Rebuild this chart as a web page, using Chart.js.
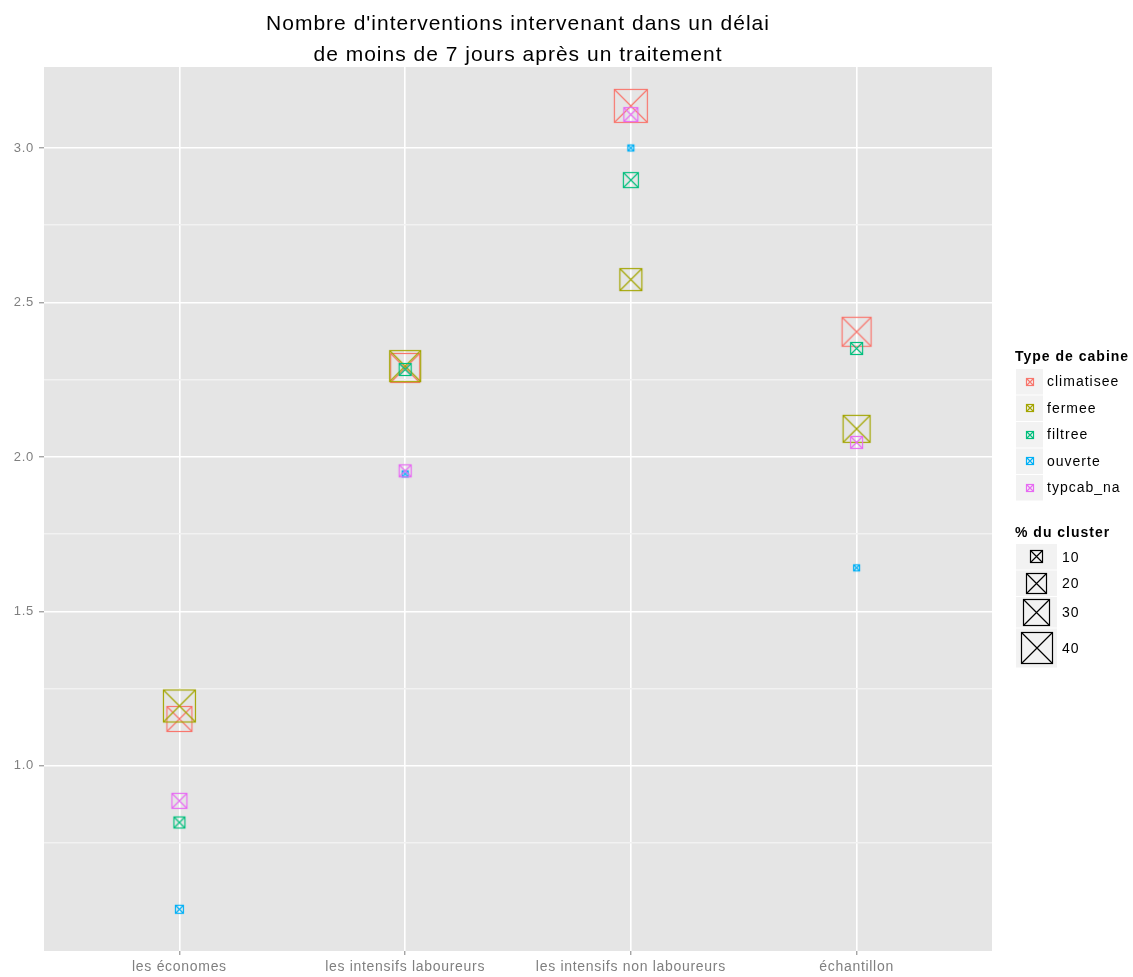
<!DOCTYPE html>
<html lang="fr">
<head>
<meta charset="UTF-8">
<title>Nombre d'interventions</title>
<script src="https://cdn.jsdelivr.net/npm/chart.js"></script>
<style>
  body { margin: 0; background: #fff; }
  #chart { display: block; }
</style>
</head>
<body>
<canvas id="chart" width="1133" height="977"></canvas>
<script>
// categories on the x axis
const categories = ['les économes', 'les intensifs laboureurs', 'les intensifs non laboureurs', 'échantillon'];
const cabinTypes = ['climatisee', 'fermee', 'filtree', 'ouverte', 'typcab_na'];
const cabinColors = ['#F8766D', '#A3A500', '#00BF7D', '#00B0F6', '#E76BF3'];

// mean number of interventions (y) per category
const climatiseeY = [1.152, 2.288, 3.136, 2.405];
const fermeeY     = [1.194, 2.294, 2.574, 2.091];
const filtreeY    = [0.817, 2.283, 2.896, 2.351];
const ouverteY    = [0.536, 1.945, 3.000, 1.641];
const typcabNaY   = [0.887, 1.955, 3.108, 2.047];

// % du cluster (marker size)
const climatiseePct = [28, 36, 45, 36];
const fermeePct     = [42, 40, 23, 31];
const filtreePct    = [9, 10, 13, 10];
const ouvertePct    = [7, 6, 6, 6];
const typcabNaPct   = [13, 10, 12, 10];

const yMajorTicks = [1.0, 1.5, 2.0, 2.5, 3.0];
const yMinorTicks = [0.75, 1.25, 1.75, 2.25, 2.75];
const sizeLegendValues = [10, 20, 30, 40];

const seriesY = [climatiseeY, fermeeY, filtreeY, ouverteY, typcabNaY];
const seriesPct = [climatiseePct, fermeePct, filtreePct, ouvertePct, typcabNaPct];

const FONT = '"Liberation Sans", Arial, sans-serif';

// size scale: marker area grows linearly with the percentage
function sideFor(pct) {
  return Math.sqrt(Math.max(30, 169 + 28.5 * (pct - 10)));
}

const markerCache = {};
function marker(color, side) {
  const s = Math.round(side);
  const key = color + s;
  if (markerCache[key]) return markerCache[key];
  const pad = 2;
  const dim = s + pad * 2;
  const c = document.createElement('canvas');
  c.width = dim; c.height = dim;
  const g = c.getContext('2d');
  g.strokeStyle = color;
  g.lineWidth = 1.2;
  g.strokeRect(pad + 0.5, pad + 0.5, s - 1, s - 1);
  g.beginPath();
  g.moveTo(pad + 0.5, pad + 0.5); g.lineTo(pad + s - 0.5, pad + s - 0.5);
  g.moveTo(pad + s - 0.5, pad + 0.5); g.lineTo(pad + 0.5, pad + s - 0.5);
  g.stroke();
  markerCache[key] = c;
  return c;
}

const datasets = cabinTypes.map((name, i) => ({
  label: name,
  data: seriesY[i].map((y, j) => ({ x: j + 1, y: y })),
  order: cabinTypes.length - i,
  pointStyle: (ctx) => marker(cabinColors[i], sideFor(seriesPct[i][ctx.dataIndex])),
  pointRadius: 5,
  showLine: false
}));

const titleLines = ["Nombre d'interventions intervenant dans un délai", 'de moins de 7 jours après un traitement'];

const decorPlugin = {
  id: 'decor',
  beforeDraw(chart) {
    const { ctx, chartArea: a } = chart;
    ctx.save();
    ctx.fillStyle = '#ffffff';
    ctx.fillRect(0, 0, chart.width, chart.height);
    ctx.fillStyle = '#E5E5E5';
    ctx.fillRect(a.left, a.top, a.right - a.left, a.bottom - a.top);
    ctx.restore();
    // wider tracking for the axis labels, like the R output
    ctx.letterSpacing = '0.7px';
  },
  beforeDatasetsDraw(chart) {
    chart.ctx.letterSpacing = '0px';
  },
  afterDraw(chart) {
    const { ctx, chartArea: a } = chart;
    ctx.save();
    // title
    ctx.fillStyle = '#000';
    ctx.font = '21px ' + FONT;
    ctx.letterSpacing = '1px';
    ctx.textAlign = 'center';
    ctx.textBaseline = 'middle';
    const cx = (a.left + a.right) / 2;
    ctx.fillText(titleLines[0], cx, 24);
    ctx.fillText(titleLines[1], cx, 55);

    // legend: colour
    const lx = 1016;
    ctx.textAlign = 'left';
    ctx.font = 'bold 14px ' + FONT;
    ctx.fillText('Type de cabine', 1015, 357);
    ctx.font = '14px ' + FONT;
    cabinTypes.forEach((name, i) => {
      const top = 369 + i * 26.5;
      ctx.fillStyle = '#F2F2F2';
      ctx.fillRect(lx, top, 27, 25.5);
      const m = marker(cabinColors[i], 8);
      ctx.drawImage(m, Math.round(lx + 13.5 - m.width / 2), Math.round(top + 12.75 - m.height / 2));
      ctx.fillStyle = '#000';
      ctx.fillText(name, 1047, top + 13.5);
    });

    // legend: size
    ctx.font = 'bold 14px ' + FONT;
    ctx.fillText('% du cluster', 1015, 533);
    ctx.font = '14px ' + FONT;
    const heights = [25.5, 25.5, 30.5, 39];
    let top = 544;
    sizeLegendValues.forEach((v, i) => {
      const h = heights[i];
      ctx.fillStyle = '#F2F2F2';
      ctx.fillRect(lx, top, 41, h);
      const m = marker('#000000', sideFor(v));
      ctx.drawImage(m, Math.round(lx + 20.5 - m.width / 2), Math.round(top + h / 2 - m.height / 2));
      ctx.fillStyle = '#000';
      ctx.fillText(String(v), 1062, top + h / 2 + 1);
      top += h + 1;
    });
    ctx.restore();
  }
};

new Chart(document.getElementById('chart'), {
  type: 'scatter',
  data: { datasets: datasets },
  options: {
    responsive: false,
    animation: false,
    devicePixelRatio: 1,
    layout: { padding: { top: 67, right: 141, left: 0, bottom: 0 } },
    plugins: {
      legend: { display: false },
      tooltip: { enabled: false },
      title: { display: false }
    },
    scales: {
      x: {
        type: 'linear',
        min: 0.4,
        max: 4.6,
        afterBuildTicks(scale) {
          scale.ticks = categories.map((c, i) => ({ value: i + 1 }));
        },
        afterFit(scale) { scale.height = 26; },
        border: { display: false },
        grid: {
          color: '#FFFFFF',
          lineWidth: 1.6,
          tickColor: '#7F7F7F',
          tickLength: 4,
          tickWidth: 1
        },
        ticks: {
          autoSkip: false,
          maxRotation: 0,
          padding: 4,
          color: '#7F7F7F',
          font: { family: FONT, size: 14 },
          callback: (v) => categories[v - 1]
        }
      },
      y: {
        type: 'linear',
        min: 0.401,
        max: 3.262,
        afterBuildTicks(scale) {
          scale.ticks = yMinorTicks.concat(yMajorTicks).sort((p, q) => p - q).map(v => ({ value: v }));
        },
        afterFit(scale) { scale.width = 44; },
        border: { display: false },
        grid: {
          color: (ctx) => yMajorTicks.includes(ctx.tick && ctx.tick.value) ? '#FFFFFF' : '#F2F2F2',
          lineWidth: 1.6,
          tickColor: (ctx) => yMajorTicks.includes(ctx.tick && ctx.tick.value) ? '#7F7F7F' : 'rgba(0,0,0,0)',
          tickLength: 5,
          tickWidth: 1
        },
        ticks: {
          autoSkip: false,
          padding: 5,
          color: '#7F7F7F',
          font: { family: FONT, size: 13 },
          callback: (v) => yMajorTicks.includes(v) ? v.toFixed(1) : ''
        }
      }
    }
  },
  plugins: [decorPlugin]
});
</script>
</body>
</html>
